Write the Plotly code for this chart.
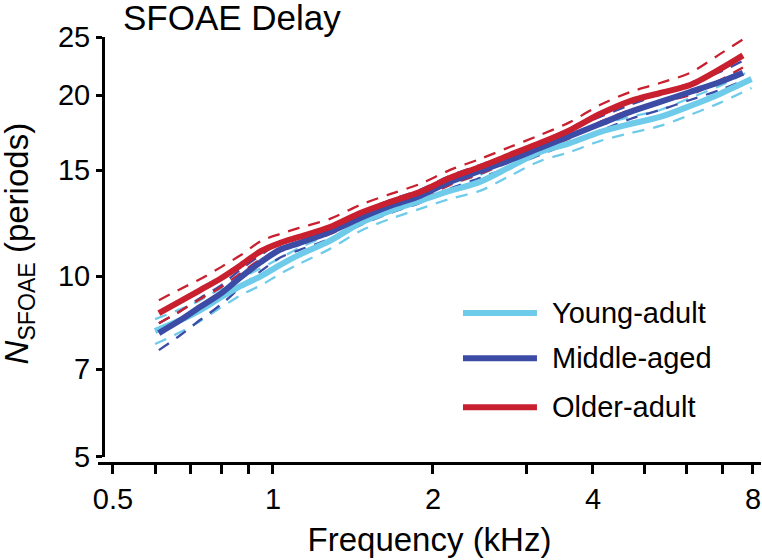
import plotly.graph_objects as go

# ---------------- data ----------------
freq = [0.61, 0.67, 0.73, 0.80, 0.87, 0.95, 1.03, 1.12, 1.28, 1.46, 1.66, 1.89,
        2.15, 2.45, 2.79, 3.18, 3.62, 4.12, 4.70, 5.35, 6.09, 6.93, 7.66]
freq_young = [0.60, 0.67, 0.73, 0.80, 0.87, 0.95, 1.03, 1.12, 1.28, 1.46, 1.66, 1.89,
              2.15, 2.45, 2.79, 3.18, 3.62, 4.12, 4.70, 5.35, 6.09, 6.93, 7.95]

young_mean = [8.10, 8.45, 8.78, 9.23, 9.63, 10.00, 10.43, 10.85, 11.45, 12.26, 12.84, 13.34,
              13.86, 14.35, 15.19, 16.09, 16.65, 17.37, 17.91, 18.40, 19.19, 20.10, 21.28]
young_upper = [8.48, 8.81, 9.12, 9.55, 9.93, 10.31, 10.71, 11.14, 11.76, 12.59, 13.19, 13.70,
               14.24, 14.74, 15.60, 16.53, 17.10, 17.84, 18.40, 18.90, 19.79, 20.73, 22.03]
young_lower = [7.71, 8.07, 8.42, 8.88, 9.30, 9.66, 10.08, 10.48, 11.10, 11.89, 12.45, 12.94,
               13.44, 13.86, 14.68, 15.54, 16.09, 16.78, 17.30, 17.78, 18.54, 19.42, 20.56]

middle_mean = [8.04, 8.45, 8.89, 9.37, 9.96, 10.56, 11.06, 11.35, 11.84, 12.49, 13.08, 13.60,
               14.35, 14.96, 15.60, 16.34, 17.11, 17.91, 18.76, 19.49, 20.25, 21.04, 21.80]
middle_upper = [8.35, 8.75, 9.20, 9.66, 10.27, 10.85, 11.36, 11.66, 12.12, 12.78, 13.38, 13.92,
                14.68, 15.31, 15.96, 16.72, 17.58, 18.40, 19.27, 20.10, 20.96, 21.86, 22.82]
middle_lower = [7.53, 7.98, 8.46, 8.98, 9.59, 10.20, 10.73, 11.05, 11.53, 12.16, 12.73, 13.24,
                13.97, 14.56, 15.19, 15.91, 16.66, 17.44, 18.26, 18.90, 19.64, 20.40, 21.14]

older_mean = [8.68, 9.09, 9.48, 9.93, 10.43, 11.01, 11.35, 11.62, 12.07, 12.74, 13.28, 13.80,
              14.56, 15.19, 15.91, 16.65, 17.50, 18.61, 19.56, 20.17, 20.80, 22.10, 23.30]
older_upper = [9.12, 9.52, 9.89, 10.36, 10.84, 11.44, 11.75, 12.03, 12.45, 13.14, 13.69, 14.23,
               15.01, 15.66, 16.40, 17.17, 18.04, 19.26, 20.25, 20.96, 21.78, 23.41, 24.77]
older_lower = [8.35, 8.75, 9.16, 9.59, 10.12, 10.68, 11.01, 11.31, 11.75, 12.40, 12.93, 13.43,
               14.17, 14.79, 15.49, 16.21, 16.97, 18.05, 18.90, 19.49, 20.02, 21.19, 22.25]

group_names = ["Young-adult", "Middle-aged", "Older-adult"]

x_tickvals = [0.5, 1, 2, 4, 8]
x_ticktext = ["0.5", "1", "2", "4", "8"]
x_minor_tickvals = [0.6, 0.7, 0.8, 0.9, 3, 5, 6, 7]
y_tickvals = [5, 7, 10, 15, 20, 25]
y_ticktext = ["5", "7", "10", "15", "20", "25"]

# ---------------- styling ----------------
colors = ["#6FCBEA", "#3B4BA6", "#C8202F"]
FONT = "Liberation Sans, Arial, sans-serif"

series = [
    (freq_young, young_mean, young_upper, young_lower),
    (freq, middle_mean, middle_upper, middle_lower),
    (freq, older_mean, older_upper, older_lower),
]

fig = go.Figure()

# dashed confidence bounds first
for (fx, m, up, lo), c in zip(series, colors):
    for band in (up, lo):
        fig.add_trace(go.Scatter(
            x=fx, y=band, mode="lines",
            line=dict(color=c, width=2.3, dash="12px,9px", shape="spline", smoothing=0.8),
            showlegend=False, hoverinfo="skip"))

# solid mean curves on top
for (fx, m, up, lo), c, name in zip(series, colors, group_names):
    fig.add_trace(go.Scatter(
        x=fx, y=m, mode="lines", name=name,
        line=dict(color=c, width=6, shape="spline", smoothing=0.8),
        showlegend=False))

# manual legend (long line samples like the reference)
leg_y = [0.352, 0.246, 0.131]
for name, c, ly in zip(group_names, colors, leg_y):
    fig.add_shape(type="line", xref="paper", yref="paper",
                  x0=0.5505, x1=0.6621, y0=ly, y1=ly,
                  line=dict(color=c, width=6))
    fig.add_annotation(xref="paper", yref="paper", x=0.6817, y=ly,
                       text=name, showarrow=False, xanchor="left", yanchor="middle",
                       font=dict(family=FONT, size=29, color="black"))

# y-axis title placed as rotated text (sits near the left edge like the reference)
fig.add_annotation(xref="paper", yref="paper", x=-0.1195, y=0.515,
                   text="<i>N</i><sub>SFOAE</sub> (periods)", textangle=-90,
                   showarrow=False, xanchor="center", yanchor="middle",
                   font=dict(family=FONT, size=33, color="black"))

fig.update_layout(
    width=762, height=560,
    margin=dict(l=98, r=1, t=37, b=97, autoexpand=False),
    paper_bgcolor="white", plot_bgcolor="white",
    font=dict(family=FONT, color="black"),
    title=dict(text="SFOAE Delay", x=0.0377, xref="paper", xanchor="left",
               y=0.968, yref="container", yanchor="middle",
               font=dict(family=FONT, size=35, color="black")),
    showlegend=False,
)

fig.update_xaxes(
    type="log", range=[-0.3292, 0.9182], domain=[0, 1],
    anchor="free", position=0, automargin=False,
    showline=True, linecolor="black", linewidth=3,
    showgrid=False, zeroline=False,
    tickmode="array", tickvals=x_tickvals, ticktext=x_ticktext,
    ticks="outside", ticklen=9, tickwidth=3, tickcolor="black",
    minor=dict(tickmode="array", tickvals=x_minor_tickvals, ticks="outside",
               ticklen=9, tickwidth=3, tickcolor="black", showgrid=False),
    tickfont=dict(family=FONT, size=29, color="black"),
    title=dict(text="Frequency (kHz)", font=dict(family=FONT, size=33, color="black"),
               standoff=14),
)

fig.update_yaxes(
    type="log", range=[0.69897, 1.39794], domain=[0.0141, 1],
    anchor="free", position=0.0075, automargin=False,
    showline=True, linecolor="black", linewidth=3,
    showgrid=False, zeroline=False,
    tickmode="array", tickvals=y_tickvals, ticktext=y_ticktext,
    ticks="outside", ticklen=6, tickwidth=3, tickcolor="black",
    tickfont=dict(family=FONT, size=29, color="black"),
)

fig.write_html("out.html", config={"displayModeBar": False},
               post_script="document.body.style.margin='0';document.body.style.padding='0';")
